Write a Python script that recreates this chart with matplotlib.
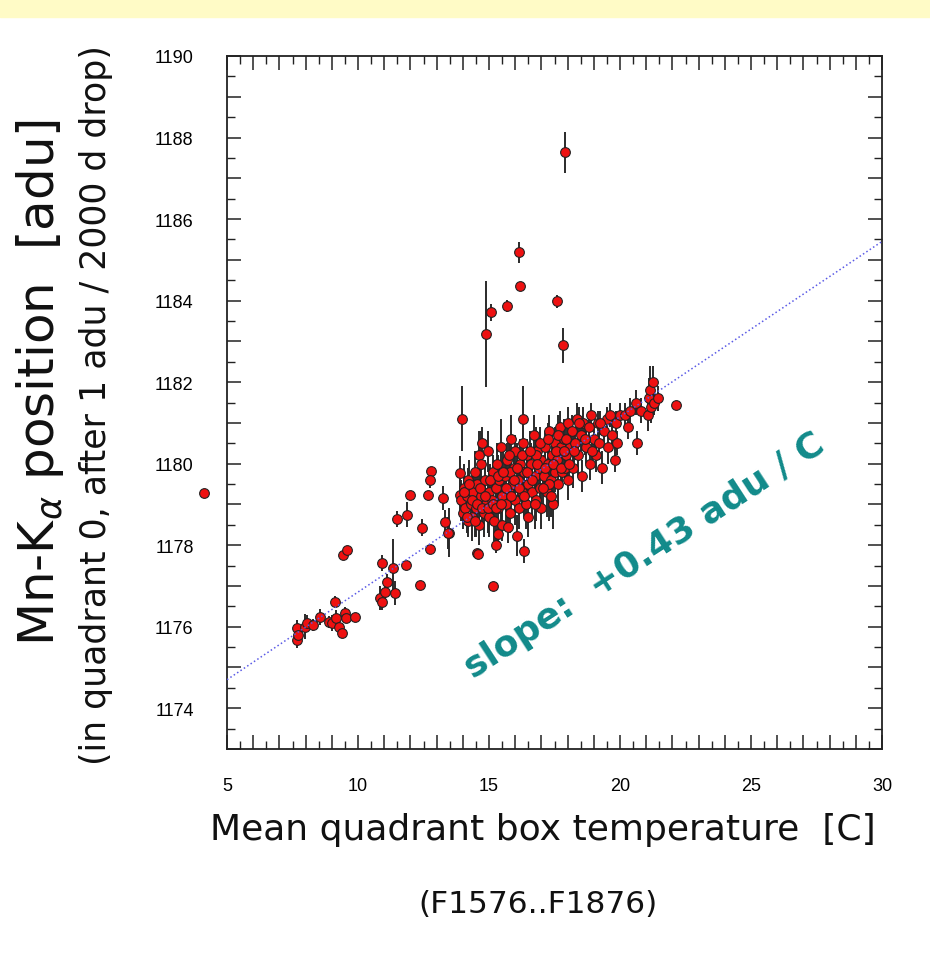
import numpy as np
import matplotlib.pyplot as plt
from matplotlib.ticker import MultipleLocator, FuncFormatter
from matplotlib.patches import Rectangle

# Low temperature tail (7..14 C) -- temperature, position, error
temp_low = [4.12, 7.67, 7.67, 7.71, 7.98, 8.05, 8.28, 8.55, 8.89, 9.0, 9.12, 9.16, 9.27, 9.39,
            9.5, 9.54, 9.89, 9.43, 9.58, 10.92, 10.84, 10.92, 11.03, 11.11, 11.41, 11.34, 11.83,
            12.37, 12.75, 12.44, 13.47, 11.49, 11.87, 11.98, 12.67, 12.79, 12.75, 13.24, 13.44,
            13.32, 13.89, 13.89]
pos_low = [1179.29, 1175.97, 1175.68, 1175.8, 1176.0, 1176.09, 1176.04, 1176.24, 1176.12, 1176.09,
           1176.61, 1176.22, 1176.0, 1175.85, 1176.34, 1176.22, 1176.24, 1177.76, 1177.89, 1177.57,
           1176.7, 1176.61, 1176.85, 1177.1, 1176.83, 1177.44, 1177.52, 1177.03, 1177.91, 1178.43,
           1178.3, 1178.65, 1178.75, 1179.24, 1179.24, 1179.83, 1179.6, 1179.16, 1178.3, 1178.57,
           1179.78, 1179.24]
err_low = [0.0, 0.2, 0.2, 0.2, 0.3, 0.2, 0.15, 0.2, 0.15, 0.2, 0.15, 0.2, 0.15, 0.1,
           0.15, 0.1, 0.1, 0.1, 0.1, 0.2, 0.3, 0.2, 0.3, 0.2, 0.3, 0.7, 0.1,
           0.1, 0.1, 0.2, 0.6, 0.2, 0.3, 0.1, 0.1, 0.1, 0.2, 0.3, 0.4,
           0.3, 0.4, 0.5]

# Main cluster (14..22 C)
temp_core = [13.95, 14.0, 14.05, 14.1, 14.15, 14.2, 14.2,
             14.3, 14.35, 14.4, 14.45, 14.5, 14.55, 14.6, 14.6,
             14.7, 14.75, 14.8, 14.85, 14.9, 14.95, 15.0, 15.0,
             15.1, 15.15, 15.2, 15.25, 15.3, 15.35, 15.4, 15.45, 15.5, 15.5,
             15.6, 15.65, 15.7, 15.75, 15.8, 15.85, 15.9, 15.95, 16.0, 16.0,
             16.1, 16.15, 16.2, 16.25, 16.3, 16.35, 16.4, 16.45, 16.5, 16.5,
             16.6, 16.65, 16.7, 16.75, 16.8, 16.85, 16.9, 16.95, 17.0, 17.0,
             17.1, 17.15, 17.2, 17.25, 17.3, 17.35, 17.4, 17.45, 17.5, 17.5,
             17.6, 17.65, 17.7, 17.75, 17.8, 17.85, 17.9, 17.95, 18.0, 18.0,
             18.1, 18.15, 18.2, 18.3, 18.35, 18.4, 18.5, 18.55, 18.6,
             18.7, 18.8, 18.85, 18.9, 19.0, 19.1, 19.15, 19.2, 19.3,
             19.4, 19.5, 19.55, 19.6, 19.7, 19.8, 19.85, 19.9, 20.0,
             20.2, 20.3, 20.4, 20.6, 20.65, 20.8,
             21.05, 21.1, 21.15, 21.2, 21.25, 21.3, 21.45, 22.15,
             14.7, 15.8, 16.8, 17.3, 13.97, 16.3,
             14.54, 15.27, 15.34, 16.07, 16.34, 15.73, 14.58, 15.15]
pos_core = [1179.1, 1178.8, 1179.4, 1178.9, 1179.2, 1178.6, 1179.6,
            1179.0, 1178.7, 1179.3, 1179.8, 1178.9, 1179.5, 1178.5, 1180.2,
            1179.2, 1180.5, 1178.8, 1179.6, 1179.0, 1180.3, 1179.3, 1178.7,
            1179.1, 1179.8, 1178.6, 1179.4, 1180.0, 1178.9, 1179.6, 1180.4, 1179.2, 1178.5,
            1179.7, 1179.0, 1180.1, 1179.4, 1178.8, 1180.6, 1179.5, 1179.9, 1179.1, 1180.3,
            1179.6, 1178.9, 1180.0, 1179.3, 1180.5, 1179.8, 1179.0, 1180.2, 1179.5, 1178.7,
            1180.0, 1179.3, 1180.7, 1179.7, 1179.1, 1180.3, 1179.9, 1179.4, 1180.1, 1178.9,
            1179.7, 1180.4, 1179.3, 1180.0, 1180.8, 1179.6, 1180.2, 1179.0, 1180.5, 1179.8,
            1180.1, 1179.5, 1180.9, 1180.4, 1179.8, 1180.6, 1179.9, 1180.2, 1181.0, 1179.6,
            1180.4, 1180.8, 1179.9, 1180.5, 1181.1, 1180.2, 1180.7, 1179.7, 1181.0,
            1180.4, 1180.9, 1180.0, 1181.2, 1180.6, 1180.2, 1181.0, 1180.5, 1179.9,
            1180.8, 1181.1, 1180.4, 1181.2, 1180.7, 1180.1, 1181.0, 1180.5, 1181.2,
            1181.2, 1180.9, 1181.3, 1181.5, 1180.5, 1181.3,
            1181.2, 1181.6, 1181.8, 1181.4, 1182.0, 1181.5, 1181.6, 1181.45,
            1180.0, 1179.8, 1180.2, 1179.5, 1181.1, 1181.1,
            1177.81, 1178.0, 1178.28, 1178.23, 1177.86, 1178.45, 1177.79, 1177.0]
err_core = [0.5, 0.4, 0.6, 0.3, 0.5, 0.4, 0.3,
            0.5, 0.6, 0.4, 0.5, 0.7, 0.4, 0.5, 0.6,
            0.5, 0.4, 0.6, 0.5, 0.4, 0.5, 0.6, 0.5,
            0.5, 0.4, 0.5, 0.6, 0.5, 0.4, 0.5, 0.7, 0.5, 0.4,
            0.5, 0.6, 0.4, 0.5, 0.5, 0.6, 0.4, 0.5, 0.6, 0.4,
            0.5, 0.5, 0.6, 0.4, 0.5, 0.5, 0.6, 0.4, 0.5, 0.5,
            0.5, 0.6, 0.5, 0.4, 0.5, 0.5, 0.6, 0.4, 0.5, 0.5,
            0.5, 0.4, 0.6, 0.5, 0.4, 0.5, 0.5, 0.6, 0.4, 0.5,
            0.4, 0.5, 0.4, 0.5, 0.4, 0.5, 0.4, 0.5, 0.4, 0.5,
            0.4, 0.4, 0.5, 0.4, 0.4, 0.5, 0.4, 0.4, 0.4,
            0.4, 0.4, 0.4, 0.3, 0.4, 0.4, 0.3, 0.4, 0.4,
            0.3, 0.3, 0.4, 0.3, 0.4, 0.3, 0.3, 0.3, 0.3,
            0.3, 0.3, 0.3, 0.3, 0.3, 0.3,
            0.4, 0.5, 0.6, 0.4, 0.4, 0.3, 0.3, 0.0,
            0.8, 0.8, 0.7, 0.9, 0.8, 0.8,
            0.1, 0.2, 0.3, 0.5, 0.3, 0.4, 0.0, 0.0]

# more points filling the dense part of the cluster
temp_fill = [14.05, 14.15, 14.25, 14.35, 14.45, 14.55, 14.65, 14.75, 14.85, 14.95,
             15.05, 15.15, 15.25, 15.35, 15.45, 15.55, 15.65, 15.75, 15.85, 15.95,
             16.05, 16.15, 16.25, 16.35, 16.45, 16.55, 16.65, 16.75, 16.85, 16.95,
             17.05, 17.15, 17.25, 17.35, 17.45, 17.55, 17.65, 17.75, 17.85, 17.95,
             18.05, 18.25, 18.45, 18.65, 18.95, 19.25]
pos_fill = [1179.3, 1178.7, 1179.5, 1179.1, 1178.6, 1179.0, 1179.4, 1178.9, 1179.2, 1178.9,
            1179.6, 1179.0, 1178.9, 1179.7, 1179.0, 1179.8, 1179.4, 1180.2, 1179.2, 1179.6,
            1179.9, 1179.4, 1180.2, 1179.2, 1179.8, 1180.3, 1179.6, 1179.0, 1180.0, 1180.5,
            1179.4, 1179.9, 1180.6, 1179.2, 1180.0, 1180.3, 1180.7, 1179.9, 1180.3, 1180.6,
            1180.0, 1180.3, 1181.0, 1180.6, 1180.3, 1181.0]
err_fill = [0.5, 0.4, 0.6, 0.5, 0.4, 0.6, 0.5, 0.4, 0.5, 0.6,
            0.4, 0.5, 0.6, 0.5, 0.4, 0.5, 0.6, 0.5, 0.4, 0.5,
            0.6, 0.5, 0.4, 0.5, 0.6, 0.5, 0.4, 0.6, 0.5, 0.4,
            0.5, 0.6, 0.4, 0.5, 0.5, 0.4, 0.5, 0.4, 0.5, 0.4,
            0.4, 0.5, 0.4, 0.4, 0.4, 0.3]

# High outliers
temp_out = [16.15, 16.18, 15.08, 15.69, 14.89, 17.6, 17.82, 17.9]
pos_out = [1185.18, 1184.35, 1183.71, 1183.86, 1183.17, 1183.98, 1182.9, 1187.64]
err_out = [0.25, 0.1, 0.2, 0.15, 1.3, 0.15, 0.42, 0.5]

# fitted line
slope = 0.43
pos_at_5 = 1174.7

temp = np.array(temp_low + temp_core + temp_fill + temp_out)
pos = np.array(pos_low + pos_core + pos_fill + pos_out)
err = np.array(err_low + err_core + err_fill + err_out)

fig = plt.figure(figsize=(9.3, 9.79), dpi=100)
fig.patches.append(Rectangle((0, 1 - 18 / 979), 1, 18 / 979, transform=fig.transFigure,
                             color='#fffbc6', zorder=0))
ax = fig.add_axes([227 / 930, 1 - 750 / 979, 655 / 930, 693 / 979])

xl = np.array([5, 30])
ax.plot(xl, pos_at_5 + slope * (xl - 5), ':', color='#5a5ae6', lw=1.1, zorder=3)

ax.errorbar(temp, pos, yerr=err, fmt='o', color='#222222', ecolor='#2a2a2a', elinewidth=1.4,
            markerfacecolor='#ee1111', markeredgecolor='#222222', markeredgewidth=0.8,
            markersize=7, capsize=0, clip_on=False, zorder=2)

ax.set_xlim(5, 30)
ax.set_ylim(1173, 1190)
ax.xaxis.set_major_locator(MultipleLocator(1))
ax.xaxis.set_minor_locator(MultipleLocator(0.5))
ax.yaxis.set_major_locator(MultipleLocator(1))
ax.yaxis.set_minor_locator(MultipleLocator(0.5))
ax.xaxis.set_major_formatter(FuncFormatter(lambda v, p: '%d' % v if v % 5 == 0 else ''))
ax.yaxis.set_major_formatter(FuncFormatter(lambda v, p: '%d' % v if v % 2 == 0 else ''))
ax.tick_params(which='both', direction='in', top=True, right=True, color='#222222')
ax.tick_params(which='major', length=10, width=1.1, labelsize=13, pad=20)
ax.tick_params(which='minor', length=6, width=1.0)
ax.tick_params(axis='y', which='major', pad=24)
for lab in ax.get_xticklabels() + ax.get_yticklabels():
    lab.set_family('Liberation Sans')
for s in ax.spines.values():
    s.set_linewidth(1.3)
    s.set_color('#222222')

ax.text(20.95, 1177.76, 'slope:  +0.43 adu / C', rotation=33, color='#118a8a',
        fontsize=26, fontweight='bold', ha='center', va='center', rotation_mode='anchor')

fig.text(40 / 930, 1 - 383 / 979, r'Mn-K$_\alpha$ position  [adu]', rotation=90,
         fontsize=36, ha='center', va='center', color='#111111')
fig.text(96 / 930, 1 - 405 / 979, '(in quadrant 0, after 1 adu / 2000 d drop)', rotation=90,
         fontsize=25, ha='center', va='center', color='#111111')
fig.text(543 / 930, 1 - 830 / 979, 'Mean quadrant box temperature  [C]',
         fontsize=26, ha='center', va='center', color='#111111')
fig.text(538 / 930, 1 - 905 / 979, '(F1576..F1876)',
         fontsize=22.5, ha='center', va='center', color='#111111')

fig.savefig('out.png', dpi=100)
